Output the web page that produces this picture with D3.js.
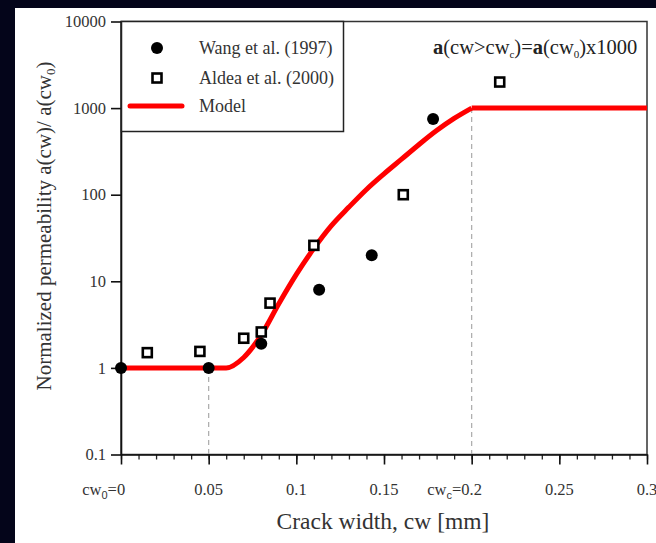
<!DOCTYPE html>
<html>
<head>
<meta charset="utf-8">
<script src="https://cdn.jsdelivr.net/npm/d3@7.9.0/dist/d3.min.js"></script>
<style>
  body { margin: 0; background: #04051a; }
  svg { display: block; }
</style>
</head>
<body>
<div id="chart"></div>
<script>
const width = 656;
const height = 543;

// measured data
const wangCw = [0, 0.05, 0.08, 0.113, 0.143, 0.178];
const wangValue = [1, 1, 1.9, 8, 20, 750];

const aldeaCw = [0.015, 0.045, 0.07, 0.08, 0.085, 0.11, 0.161, 0.216];
const aldeaValue = [1.5, 1.55, 2.2, 2.6, 5.6, 26, 100, 2000];

// model curve, rising part then plateau
const modelCw = [0, 0.06, 0.07, 0.08, 0.09, 0.1, 0.11, 0.12, 0.13, 0.14, 0.15, 0.16, 0.17, 0.18, 0.19, 0.2];
const modelValue = [1, 1, 1.32, 2.4, 5.5, 12, 24, 44, 72, 115, 174, 257, 380, 550, 760, 1000];
const plateauCw = [0.2, 0.3];
const plateauValue = [1000, 1000];

// dashed guides (cw0 and cwc)
const guideCw = [0.05, 0.2];
const guideValue = [1, 1000];

const xTicks = [0, 0.05, 0.1, 0.15, 0.2, 0.25, 0.3];
const xTickLabels = [["cw", "0", "=", "0"], ["", "", "", "0.05"], ["", "", "", "0.1"], ["", "", "", "0.15"],
                     ["cw", "c", "=", "0.2"], ["", "", "", "0.25"], ["", "", "", "0.3"]];
const yTicks = [0.1, 1, 10, 100, 1000, 10000];
const yTickLabels = ["0.1", "1", "10", "100", "1000", "10000"];

const serif = "'Liberation Serif', 'Times New Roman', serif";

const plot = { left: 121, right: 647, top: 21.5, bottom: 454.5 };

const svg = d3.select('#chart')
  .append('svg')
  .attr('width', width)
  .attr('height', height);

svg.append('rect').attr('width', width).attr('height', height).attr('fill', '#04051a');
svg.append('rect').attr('x', 15).attr('y', 8).attr('width', width - 15).attr('height', height - 8).attr('fill', '#fff');

const x = d3.scaleLinear().domain([0, 0.3]).range([plot.left, plot.right]);
const y = d3.scaleLog().domain([0.1, 10000]).range([plot.bottom, plot.top]);

// frame
svg.append('rect')
  .attr('x', plot.left).attr('y', plot.top)
  .attr('width', plot.right - plot.left).attr('height', plot.bottom - plot.top)
  .attr('fill', 'none').attr('stroke', '#333').attr('stroke-width', 1.5);

// dashed guides
svg.append('g').selectAll('line')
  .data(guideCw)
  .join('line')
  .attr('x1', d => x(d)).attr('x2', d => x(d))
  .attr('y1', (d, i) => y(guideValue[i])).attr('y2', plot.bottom)
  .attr('stroke', '#aaa').attr('stroke-width', 1.2).attr('stroke-dasharray', '5,4');

// x axis: minor then major ticks
const minor = d3.range(0, 31).map(i => i / 100);
svg.append('g')
  .attr('transform', `translate(0,${plot.bottom})`)
  .call(d3.axisBottom(x).tickValues(minor).tickSize(5).tickFormat(''))
  .call(g => g.select('.domain').remove())
  .call(g => g.selectAll('line').attr('stroke', '#222').attr('stroke-width', 1.3));

const xAxis = svg.append('g')
  .attr('transform', `translate(0,${plot.bottom})`)
  .call(d3.axisBottom(x).tickValues(xTicks).tickSize(10).tickSizeOuter(0).tickFormat(''));
xAxis.select('.domain').attr('stroke', '#111').attr('stroke-width', 1.6);
xAxis.selectAll('line').attr('stroke', '#111').attr('stroke-width', 1.6);

// x tick labels: number centred on the tick, prefix hangs to the left
xTicks.forEach((d, i) => {
  const [pre, sub, eq, num] = xTickLabels[i];
  const probe = svg.append('text').attr('font-family', serif).attr('font-size', 16.5).text(num);
  const w = probe.node().getComputedTextLength();
  probe.remove();
  const t = svg.append('text')
    .attr('x', x(d) + w / 2)
    .attr('y', plot.bottom + 40)
    .attr('text-anchor', 'end')
    .attr('font-family', serif)
    .attr('font-size', 16.5)
    .attr('fill', '#333');
  if (pre) {
    t.append('tspan').text(pre);
    t.append('tspan').attr('dy', 4).attr('font-size', 11).attr('font-family', "'Liberation Sans', Arial, sans-serif").text(sub);
    t.append('tspan').attr('dy', -4).text(eq);
  }
  t.append('tspan').text(num);
});

// y axis
const yAxis = svg.append('g')
  .attr('transform', `translate(${plot.left},0)`)
  .call(d3.axisLeft(y).tickValues(yTicks).tickSize(10).tickSizeOuter(0).tickPadding(5)
    .tickFormat((d, i) => yTickLabels[i]));
yAxis.select('.domain').attr('stroke', '#111').attr('stroke-width', 1.6);
yAxis.selectAll('line').attr('stroke', '#111').attr('stroke-width', 1.6);
yAxis.selectAll('text').attr('font-family', serif).attr('font-size', 16.5).attr('fill', '#333');

// model curve
const line = d3.line()
  .x(d => x(d[0]))
  .y(d => y(d[1]));

svg.append('path')
  .datum(d3.zip(modelCw, modelValue))
  .attr('d', line.curve(d3.curveMonotoneX))
  .attr('fill', 'none').attr('stroke', '#f00').attr('stroke-width', 5);
svg.append('path')
  .datum(d3.zip(plateauCw, plateauValue))
  .attr('d', line.curve(d3.curveLinear))
  .attr('fill', 'none').attr('stroke', '#f00').attr('stroke-width', 5);

// Wang et al. circles
svg.append('g').selectAll('circle')
  .data(d3.zip(wangCw, wangValue))
  .join('circle')
  .attr('cx', d => x(d[0])).attr('cy', d => y(d[1]))
  .attr('r', 6).attr('fill', '#000');

// Aldea et al. squares
svg.append('g').selectAll('rect')
  .data(d3.zip(aldeaCw, aldeaValue))
  .join('rect')
  .attr('x', d => x(d[0]) - 4.5).attr('y', d => y(d[1]) - 4.5)
  .attr('width', 9).attr('height', 9)
  .attr('fill', '#fff').attr('stroke', '#000').attr('stroke-width', 2.6);

// legend
const legend = svg.append('g');
legend.append('rect')
  .attr('x', plot.left + 0.5).attr('y', plot.top)
  .attr('width', 222).attr('height', 110)
  .attr('fill', '#fff').attr('stroke', '#222').attr('stroke-width', 1.5);
legend.append('circle').attr('cx', 157).attr('cy', 48).attr('r', 6).attr('fill', '#000');
legend.append('rect').attr('x', 152.5).attr('y', 73.5).attr('width', 9).attr('height', 9)
  .attr('fill', '#fff').attr('stroke', '#000').attr('stroke-width', 2.6);
legend.append('line').attr('x1', 130).attr('x2', 182).attr('y1', 106).attr('y2', 106)
  .attr('stroke', '#f00').attr('stroke-width', 5).attr('stroke-linecap', 'round');
const legendNames = ['Wang et al. (1997)', 'Aldea et al. (2000)', 'Model'];
legend.selectAll('text.name')
  .data(legendNames)
  .join('text')
  .attr('class', 'name')
  .attr('x', 199)
  .attr('y', (d, i) => [48, 78, 106][i])
  .attr('dy', '0.35em')
  .attr('font-family', serif).attr('font-size', 18).attr('fill', '#333')
  .text(d => d);

// annotation
const note = svg.append('text')
  .attr('x', 433).attr('y', 54)
  .attr('font-family', serif).attr('font-size', 20.5).attr('fill', '#222');
note.append('tspan').attr('font-weight', 'bold').text('a');
note.append('tspan').text('(cw>cw');
note.append('tspan').attr('dy', 4).attr('font-size', 11).text('c');
note.append('tspan').attr('dy', -4).text(')=');
note.append('tspan').attr('font-weight', 'bold').text('a');
note.append('tspan').text('(cw');
note.append('tspan').attr('dy', 4).attr('font-size', 11).text('0');
note.append('tspan').attr('dy', -4).text(')x1000');

// axis titles
svg.append('text')
  .attr('x', 383).attr('y', 529)
  .attr('text-anchor', 'middle')
  .attr('font-family', serif).attr('font-size', 23.5).attr('fill', '#333')
  .text('Crack width, cw [mm]');

const yTitle = svg.append('text')
  .attr('transform', 'translate(51,226) rotate(-90)')
  .attr('text-anchor', 'middle')
  .attr('font-family', serif).attr('font-size', 21).attr('fill', '#333');
yTitle.append('tspan').text('Normalized  permeability  a(cw)/ a(cw');
yTitle.append('tspan').attr('dy', 4).attr('font-size', 13).text('0');
yTitle.append('tspan').attr('dy', -4).text(')');
</script>
</body>
</html>
